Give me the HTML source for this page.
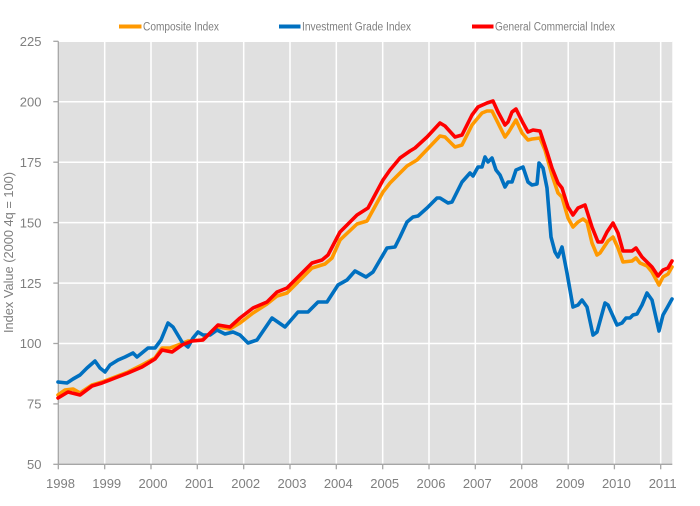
<!DOCTYPE html>
<html>
<head>
<meta charset="utf-8">
<style>
html,body{margin:0;padding:0;background:#fff;}
svg{display:block;}
text{font-family:"Liberation Sans",sans-serif;fill:#7f7f7f;}
</style>
</head>
<body>
<svg width="700" height="506" viewBox="0 0 700 506" xmlns="http://www.w3.org/2000/svg">
<rect x="0" y="0" width="700" height="506" fill="#ffffff"/>
<!-- plot area -->
<rect x="58.3" y="41.3" width="614" height="423" fill="#e0e0e0"/>
<!-- horizontal gridlines -->
<g stroke="#ffffff" stroke-width="1.5">
<line x1="58.3" y1="41.3" x2="672.3" y2="41.3"/>
<line x1="58.3" y1="101.7" x2="672.3" y2="101.7"/>
<line x1="58.3" y1="162.2" x2="672.3" y2="162.2"/>
<line x1="58.3" y1="222.6" x2="672.3" y2="222.6"/>
<line x1="58.3" y1="283.1" x2="672.3" y2="283.1"/>
<line x1="58.3" y1="343.5" x2="672.3" y2="343.5"/>
<line x1="58.3" y1="403.9" x2="672.3" y2="403.9"/>
<!-- vertical gridlines -->
<line x1="104.7" y1="41.3" x2="104.7" y2="464.3"/>
<line x1="151" y1="41.3" x2="151" y2="464.3"/>
<line x1="197.3" y1="41.3" x2="197.3" y2="464.3"/>
<line x1="243.7" y1="41.3" x2="243.7" y2="464.3"/>
<line x1="290" y1="41.3" x2="290" y2="464.3"/>
<line x1="336.3" y1="41.3" x2="336.3" y2="464.3"/>
<line x1="382.7" y1="41.3" x2="382.7" y2="464.3"/>
<line x1="429" y1="41.3" x2="429" y2="464.3"/>
<line x1="475.3" y1="41.3" x2="475.3" y2="464.3"/>
<line x1="521.7" y1="41.3" x2="521.7" y2="464.3"/>
<line x1="568.2" y1="41.3" x2="568.2" y2="464.3"/>
<line x1="614.4" y1="41.3" x2="614.4" y2="464.3"/>
<line x1="660.7" y1="41.3" x2="660.7" y2="464.3"/>
</g>
<!-- axes -->
<g stroke="#a6a6a6" stroke-width="1.3" fill="none">
<line x1="58.3" y1="41.3" x2="58.3" y2="464.3"/>
<line x1="58.3" y1="464.3" x2="672.3" y2="464.3"/>
<line x1="53.3" y1="41.3" x2="58.3" y2="41.3"/>
<line x1="53.3" y1="101.7" x2="58.3" y2="101.7"/>
<line x1="53.3" y1="162.2" x2="58.3" y2="162.2"/>
<line x1="53.3" y1="222.6" x2="58.3" y2="222.6"/>
<line x1="53.3" y1="283.1" x2="58.3" y2="283.1"/>
<line x1="53.3" y1="343.5" x2="58.3" y2="343.5"/>
<line x1="53.3" y1="403.9" x2="58.3" y2="403.9"/>
<line x1="53.3" y1="464.3" x2="58.3" y2="464.3"/>
<line x1="58.3" y1="464.3" x2="58.3" y2="469.3"/>
<line x1="104.7" y1="464.3" x2="104.7" y2="469.3"/>
<line x1="151" y1="464.3" x2="151" y2="469.3"/>
<line x1="197.3" y1="464.3" x2="197.3" y2="469.3"/>
<line x1="243.7" y1="464.3" x2="243.7" y2="469.3"/>
<line x1="290" y1="464.3" x2="290" y2="469.3"/>
<line x1="336.3" y1="464.3" x2="336.3" y2="469.3"/>
<line x1="382.7" y1="464.3" x2="382.7" y2="469.3"/>
<line x1="429" y1="464.3" x2="429" y2="469.3"/>
<line x1="475.3" y1="464.3" x2="475.3" y2="469.3"/>
<line x1="521.7" y1="464.3" x2="521.7" y2="469.3"/>
<line x1="568.2" y1="464.3" x2="568.2" y2="469.3"/>
<line x1="614.4" y1="464.3" x2="614.4" y2="469.3"/>
<line x1="660.7" y1="464.3" x2="660.7" y2="469.3"/>
</g>
<!-- y labels -->
<g font-size="13" text-anchor="end">
<text x="41.5" y="46">225</text>
<text x="41.5" y="106.4">200</text>
<text x="41.5" y="166.9">175</text>
<text x="41.5" y="227.3">150</text>
<text x="41.5" y="287.8">125</text>
<text x="41.5" y="348.2">100</text>
<text x="41.5" y="408.6">75</text>
<text x="41.5" y="469">50</text>
</g>
<!-- x labels -->
<g font-size="13" text-anchor="middle">
<text x="60.5" y="488">1998</text>
<text x="106.7" y="488">1999</text>
<text x="153" y="488">2000</text>
<text x="199.3" y="488">2001</text>
<text x="245.7" y="488">2002</text>
<text x="292" y="488">2003</text>
<text x="338.3" y="488">2004</text>
<text x="384.7" y="488">2005</text>
<text x="431" y="488">2006</text>
<text x="477.3" y="488">2007</text>
<text x="523.7" y="488">2008</text>
<text x="570.2" y="488">2009</text>
<text x="616.4" y="488">2010</text>
<text x="662.7" y="488">2011</text>
</g>
<!-- y axis title -->
<text font-size="13" transform="translate(13,333) rotate(-90)" textLength="161" lengthAdjust="spacingAndGlyphs">Index Value (2000 4q = 100)</text>
<!-- legend -->
<g stroke-width="4" stroke-linecap="butt">
<line x1="119" y1="26.5" x2="141.5" y2="26.5" stroke="#ff9900"/>
<line x1="279" y1="26.5" x2="300.5" y2="26.5" stroke="#0070c0"/>
<line x1="472" y1="26.5" x2="493.5" y2="26.5" stroke="#ff0000"/>
</g>
<g font-size="11.5">
<text x="143" y="30.5" textLength="76" lengthAdjust="spacingAndGlyphs">Composite Index</text>
<text x="302" y="30.5" textLength="109" lengthAdjust="spacingAndGlyphs">Investment Grade Index</text>
<text x="495" y="30.5" textLength="120" lengthAdjust="spacingAndGlyphs">General Commercial Index</text>
</g>
<!-- series -->
<g fill="none" stroke-width="3.6" stroke-linejoin="round" stroke-linecap="round">
<polyline stroke="#ff9900" points="58,395 65,390 73,389 80,393 92,385 102,382 115,377 128,372 142,365 155,358 162,348 170,348 178,345 188,341 202,340 218,327 230,329 240,323 253,313 267,304 277,296 287,293 298,282 312,268 325,264 332,258 340,240 357,224 367,221 383,192 390,183 397,176 407,166 417,160 440,136 445,137 455,147 462,145 472,125 482,113 487,111 492,111 498,123 505,137 508,133 516,120 522,133 528,140 532,139 540,138 545,150 552,175 558,193 562,197 568,218 573,227 578,222 583,219 587,222 592,243 597,255 600,253 608,241 613,237 618,248 623,262 632,261 636,258 640,263 647,266 652,272 659,285 663,277 668,274 672,267"/>
<polyline stroke="#0070c0" points="58,382 67,383 73,379 80,375 87,368 95,361 100,368 105,372 110,365 118,360 125,357 133,353 137,357 148,348 155,348 161,340 168,323 173,327 182,342 188,347 193,338 198,332 203,335 210,335 217,330 225,334 233,332 240,335 248,343 257,340 272,318 285,327 298,312 308,312 318,302 327,302 338,285 347,280 355,271 366,277 373,272 387,248 395,247 400,237 407,222 413,217 418,216 427,208 437,198 440,198 448,203 452,202 462,182 470,173 473,176 478,167 482,167 485,157 488,162 492,158 496,170 500,175 505,187 508,182 512,182 516,170 523,167 528,182 532,185 537,184 539,163 543,168 547,188 551,237 555,252 558,257 562,247 567,273 573,307 578,305 582,300 587,307 593,335 597,332 605,303 608,305 617,325 622,323 626,318 630,318 633,315 637,314 642,305 647,293 652,300 659,331 663,315 667,308 672,299"/>
<polyline stroke="#ff0000" points="58,398 68,392 80,395 92,386 102,383 115,378 128,373 142,367 155,359 162,350 172,352 182,345 192,341 203,340 218,325 230,327 240,318 253,308 267,302 277,292 287,288 298,277 312,263 322,260 328,255 340,232 357,215 368,208 383,180 390,170 400,158 410,151 415,148 427,137 440,123 445,126 455,137 462,135 472,115 478,107 487,103 493,101 498,112 505,125 508,122 512,112 516,109 523,123 528,132 533,130 540,131 547,152 552,168 558,183 562,188 568,207 573,215 578,208 585,205 592,227 598,242 602,242 607,232 613,223 618,233 623,251 632,251 636,248 642,257 647,262 652,267 658,276 663,270 668,268 672,261"/>
</g>
</svg>
</body>
</html>
